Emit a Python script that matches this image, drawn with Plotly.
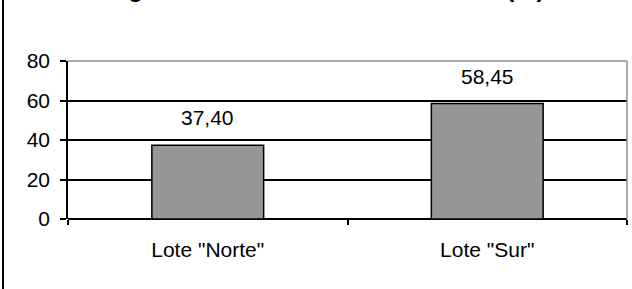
import plotly.graph_objects as go

categories = ['Lote "Norte"', 'Lote "Sur"']
values = [37.40, 58.45]
y_ticks = [0, 20, 40, 60, 80]
title_text = "Degradabilidad de la materia seca (%)"

W, H = 632, 289
ml, mr, mt, mb = 68, 5, 61, 70
pw, ph = W - ml - mr, H - mt - mb

FONT = "Liberation Sans, Arial, sans-serif"

fig = go.Figure()
fig.add_trace(go.Bar(
    x=categories, y=values,
    marker=dict(
        color="#9a9a9a",
        line=dict(color="black", width=1.5),
        pattern=dict(shape=".", fgcolor="#2a2a2a", bgcolor="#b4b4b4", size=2, solidity=0.5),
    ),
    hoverinfo="skip",
))

for c, v in zip(categories, values):
    fig.add_annotation(
        x=c, y=v, text=f"{v:.2f}".replace(".", ","),
        showarrow=False, yanchor="bottom", yshift=14,
        font=dict(family=FONT, size=21, color="black"),
    )

# clipped title
fig.add_annotation(
    xref="paper", yref="paper", x=(320 - ml) / pw, y=1 + (mt - 4) / ph,
    text=f"<b>{title_text}</b>", showarrow=False, xanchor="center", yanchor="bottom",
    font=dict(family=FONT, size=25, color="black"),
)

# grey top/right border
fig.add_shape(type="line", xref="paper", yref="paper", x0=0, x1=1, y0=1, y1=1,
              line=dict(color="#909090", width=1.5), layer="above")
fig.add_shape(type="line", xref="paper", yref="paper", x0=1, x1=1, y0=0, y1=1,
              line=dict(color="#909090", width=1.5), layer="above")
# left outer frame line
fig.add_shape(type="line", xref="paper", yref="paper",
              x0=(3 - ml) / pw, x1=(3 - ml) / pw, y0=-mb / ph - 0.05, y1=1 + mt / ph + 0.05,
              line=dict(color="black", width=2))

fig.update_layout(
    width=W, height=H,
    margin=dict(l=ml, r=mr, t=mt, b=mb),
    paper_bgcolor="white", plot_bgcolor="white",
    bargap=0.6, showlegend=False,
    font=dict(family=FONT, size=21, color="black"),
    xaxis=dict(
        type="category", tickson="boundaries", ticks="outside", ticklen=5,
        tickcolor="black", tickwidth=1.5, showline=False, showgrid=False,
        tickfont=dict(size=21), ticklabelstandoff=16,
    ),
    yaxis=dict(
        range=[0, 80], tickvals=y_ticks, ticks="outside", ticklen=6,
        tickcolor="black", tickwidth=1.5, showline=True, linecolor="black", linewidth=1.5,
        showgrid=True, gridcolor="black", gridwidth=1.5,
        zeroline=True, zerolinecolor="black", zerolinewidth=1.5,
        tickfont=dict(size=21), ticklabelstandoff=6,
    ),
)

fig.write_html(
    "out.html",
    config={"displayModeBar": False},
    post_script="document.body.style.margin='0';document.body.style.overflow='hidden';",
)
